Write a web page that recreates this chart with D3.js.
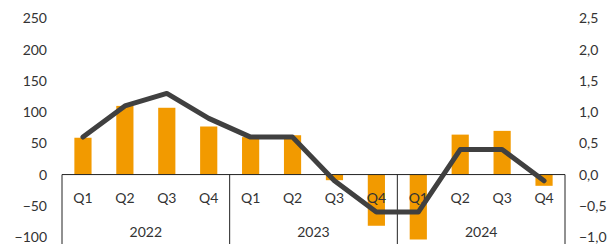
<!DOCTYPE html>
<html>
<head>
<meta charset="utf-8">
<script src="https://cdn.jsdelivr.net/npm/d3@7"></script>
<style>
  body { margin: 0; background: #fff; }
  svg text { font-family: Lato, "Open Sans", sans-serif; font-size: 14px; fill: #333; }
</style>
</head>
<body>
<svg class="chart"></svg>
<script>
// chart data
var years = ["2022", "2023", "2024"];
var quarters = ["Q1", "Q2", "Q3", "Q4"];
var barValues = [59, 110, 107, 77, 60, 63, -9, -82, -104, 64, 70, -18];
var lineValues = [0.6, 1.1, 1.3, 0.9, 0.6, 0.6, -0.1, -0.6, -0.6, 0.4, 0.4, -0.1];
var leftTicks = [-100, -50, 0, 50, 100, 150, 200, 250];
var rightTicks = [-1.0, -0.5, 0.0, 0.5, 1.0, 1.5, 2.0, 2.5];

var width = 611, height = 244;
var left = 62, right = 565;

// one entry per quarter
var data = [];
years.forEach(function(yr) {
	quarters.forEach(function(q) {
		data.push({ key: yr + "-" + q, year: yr, q: q });
	});
});
data.forEach(function(d, i) {
	d.bar = barValues[i];
	d.line = lineValues[i];
});

var svg = d3.select(".chart")
	.attr("width", width)
	.attr("height", height);

var x = d3.scaleBand()
	.domain(data.map(function(d) { return d.key; }))
	.range([left, right]);
var xYear = d3.scaleBand()
	.domain(years)
	.range([left, right]);
var y = d3.scaleLinear().domain([-100, 250]).range([237, 18.5]);
var y2 = d3.scaleLinear().domain([-1, 2.5]).range([237, 18.5]);

// bars
var barW = x.bandwidth() * 0.41;
svg.append("g")
	.selectAll("rect")
	.data(data)
	.enter().append("rect")
	.attr("x", function(d) { return x(d.key) + (x.bandwidth() - barW) / 2; })
	.attr("width", barW)
	.attr("y", function(d) { return y(Math.max(0, d.bar)); })
	.attr("height", function(d) { return Math.abs(y(d.bar) - y(0)); })
	.attr("fill", "#F29A00");

// category axis: baseline and year separators
var axisG = svg.append("g");
axisG.append("line")
	.attr("x1", left).attr("x2", right)
	.attr("y1", y(0)).attr("y2", y(0))
	.attr("stroke", "#222").attr("stroke-width", 1);
var seps = years.map(function(yr) { return xYear(yr); }).concat([right]);
axisG.selectAll("line.sep")
	.data(seps)
	.enter().append("line")
	.attr("class", "sep")
	.attr("x1", function(d) { return d; }).attr("x2", function(d) { return d; })
	.attr("y1", y(0)).attr("y2", height)
	.attr("stroke", "#222").attr("stroke-width", 1);

axisG.selectAll("text.q")
	.data(data)
	.enter().append("text")
	.attr("class", "q")
	.attr("x", function(d) { return x(d.key) + x.bandwidth() / 2; })
	.attr("y", 203)
	.attr("text-anchor", "middle")
	.text(function(d) { return d.q; });

axisG.selectAll("text.yr")
	.data(years)
	.enter().append("text")
	.attr("class", "yr")
	.attr("x", function(d) { return xYear(d) + xYear.bandwidth() / 2; })
	.attr("y", 237)
	.attr("text-anchor", "middle")
	.text(function(d) { return d; });

// line
var line = d3.line()
	.x(function(d) { return x(d.key) + x.bandwidth() / 2; })
	.y(function(d) { return y2(d.line); });
svg.append("path")
	.attr("d", line(data))
	.attr("fill", "none")
	.attr("stroke", "#404040")
	.attr("stroke-width", 5)
	.attr("stroke-linejoin", "round")
	.attr("stroke-linecap", "round");

// value axes
var fmtR = function(d) { return d3.format(".1f")(d).replace(".", ","); };
svg.append("g")
	.attr("transform", "translate(47,0)")
	.call(d3.axisLeft(y).tickValues(leftTicks).tickSize(0).tickPadding(0))
	.call(function(g) { g.select(".domain").remove(); })
	.selectAll("text").attr("fill", "#333").style("font-size", "14px");
svg.append("g")
	.attr("transform", "translate(579,0)")
	.call(d3.axisRight(y2).tickValues(rightTicks).tickFormat(fmtR).tickSize(0).tickPadding(0))
	.call(function(g) { g.select(".domain").remove(); })
	.selectAll("text").attr("fill", "#333").style("font-size", "14px");
</script>
</body>
</html>
